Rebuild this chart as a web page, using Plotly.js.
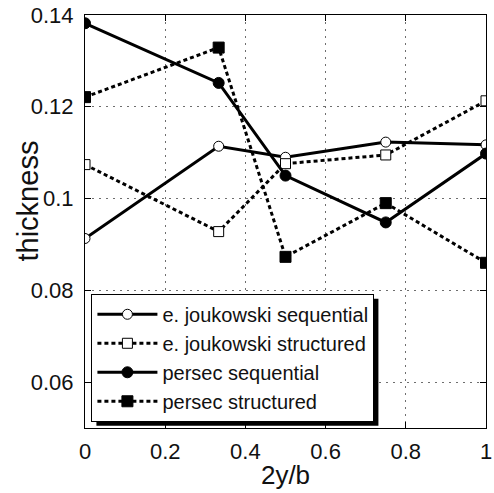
<!DOCTYPE html>
<html>
<head>
<meta charset="utf-8">
<script src="https://cdn.plot.ly/plotly-3.0.1.min.js"></script>
<style>
html,body{margin:0;padding:0;background:#fff;}
#chart{width:494px;height:493px;}
</style>
</head>
<body>
<div id="chart"></div>
<script>
// x positions (2y/b)
const xVals = [0, 1/3, 0.5, 0.75, 1];
const seriesNames = ["e. joukowski sequential", "e. joukowski structured", "persec sequential", "persec structured"];
const joukSeq = [0.0913, 0.1114, 0.1090, 0.1123, 0.1117];
const joukStr = [0.1074, 0.0928, 0.1076, 0.1095, 0.1213];
const persecSeq = [0.1382, 0.1252, 0.1050, 0.0948, 0.1098];
const persecStr = [0.1221, 0.1329, 0.0873, 0.0990, 0.0860];
const xTickVals = [0, 0.2, 0.4, 0.6, 0.8, 1];
const xTickText = ["0", "0.2", "0.4", "0.6", "0.8", "1"];
const yTickVals = [0.06, 0.08, 0.1, 0.12, 0.14];
const yTickText = ["0.06", "0.08", "0.1", "0.12", "0.14"];
const xTitle = "2y/b";
const yTitle = "thickness";

const FONT = "Liberation Sans, Arial, Helvetica";
const dotted = "4px,3px";
function tr(name, y, dash, open, sym, size) {
  return {
    x: xVals, y: y, name: name, type: "scatter", mode: "lines+markers",
    line: {color: "black", width: 3, dash: dash},
    marker: {symbol: sym, size: size, color: open ? "white" : "black",
             line: {color: "black", width: 1}}
  };
}
const data = [
  tr(seriesNames[0], joukSeq, "solid", true, "circle", 10),
  tr(seriesNames[1], joukStr, dotted, true, "square", 10),
  tr(seriesNames[2], persecSeq, "solid", false, "circle", 11),
  tr(seriesNames[3], persecStr, dotted, false, "square", 11)
];

const axisCommon = {
  showline: true, linecolor: "black", linewidth: 1, mirror: "ticks",
  ticks: "inside", ticklen: 6, tickcolor: "black", tickwidth: 1,
  showgrid: true, gridcolor: "#6e6e6e", gridwidth: 1, griddash: "2px,5px",
  zeroline: false, tickfont: {family: FONT, size: 22, color: "#111"}
};
const layout = {
  width: 494, height: 493,
  margin: {l: 85, r: 8, t: 15, b: 65},
  paper_bgcolor: "white", plot_bgcolor: "white",
  showlegend: true,
  xaxis: Object.assign({}, axisCommon, {
    range: [0, 1], tickvals: xTickVals, ticktext: xTickText, ticklabelstandoff: 4,
    title: {text: xTitle, font: {family: FONT, size: 26, color: "#111"}, standoff: 2}
  }),
  yaxis: Object.assign({}, axisCommon, {
    range: [0.05, 0.14], tickvals: yTickVals, ticktext: yTickText, ticklabelstandoff: 6
  }),
  annotations: [{
    text: yTitle, xref: "paper", yref: "paper", x: -0.143, y: 0.55,
    xanchor: "center", yanchor: "middle", textangle: -90, showarrow: false,
    font: {family: FONT, size: 29, color: "#111"}
  }],
  legend: {
    x: 0.016, y: 0.325, xanchor: "left", yanchor: "top",
    bgcolor: "white", bordercolor: "black", borderwidth: 1,
    font: {family: FONT, size: 20, color: "#111"},
    itemwidth: 60,
    tracegroupgap: 0
  },
  shapes: []
};
Plotly.newPlot("chart", data, layout, {displayModeBar: false, staticPlot: true}).then(function(gd){
  const bg = gd.querySelector(".legend .bg");
  if (!bg) return;
  const lg = gd.querySelector(".legend");
  const m = (lg.getAttribute("transform") || "").match(/translate\(([-\d.]+),\s*([-\d.]+)\)/);
  const tx = m ? parseFloat(m[1]) : 0, ty = m ? parseFloat(m[2]) : 0;
  const w = parseFloat(bg.getAttribute("width")), h = parseFloat(bg.getAttribute("height"));
  const fs = gd._fullLayout._size;
  const off = 5;
  const x0 = (tx + off - fs.l) / fs.w, x1 = (tx + w + off - fs.l) / fs.w;
  const y1 = 1 - (ty + off - fs.t) / fs.h, y0 = 1 - (ty + h + off - fs.t) / fs.h;
  return Plotly.relayout(gd, {shapes: [{type: "rect", xref: "paper", yref: "paper", layer: "above",
    x0: x0, x1: x1, y0: y0, y1: y1, fillcolor: "black", line: {width: 0}}]});
});
</script>
</body>
</html>
